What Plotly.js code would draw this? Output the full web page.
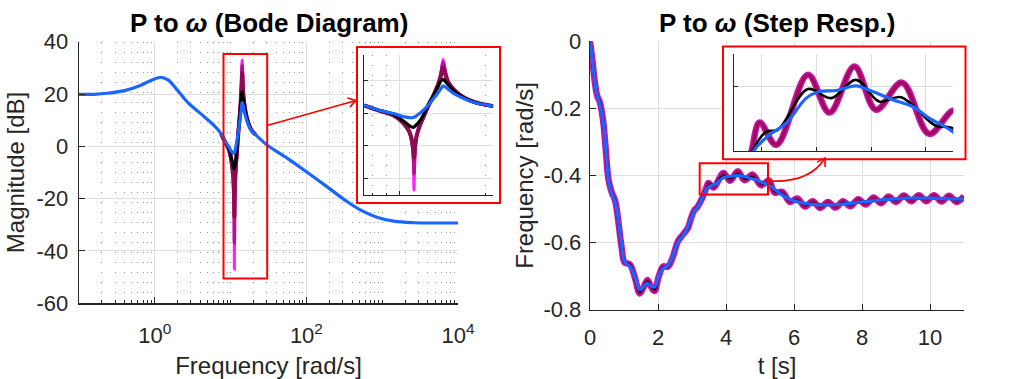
<!DOCTYPE html>
<html><head><meta charset="utf-8">
<script src="https://cdn.plot.ly/plotly-3.0.1.min.js"></script>
<style>html,body{margin:0;padding:0;background:#fff}#plot{width:1011px;height:379px}</style>
</head><body><div id="plot"></div>
<script>
// ---------------- Bode magnitude (frequency rad/s, magnitude dB) ----------------
const bodeFreq = [0.1, 0.158, 0.251, 0.398, 0.631, 0.891, 1.23, 1.51, 2.0, 2.69, 3.98, 6.03,
  7.5, 8.5, 9.5, 10.3, 10.8, 11.0, 11.15, 11.22, 11.3, 11.45, 11.7, 12.1, 12.6, 13.1, 13.6, 13.95,
  14.2, 14.45, 14.8, 15.4, 16.3, 17.5, 19.2, 21.3,
  30.2, 56.2, 100, 186, 347, 513, 851, 1413, 2630, 5012, 10000];
const bodeBlue = [19.9, 19.9, 20.4, 21.3, 23.2, 25.2, 26.4, 25.3, 21.4, 16.9, 12.6, 8.0,
  4.8, 1.8, -0.2, -2.0, -2.6, -2.7, -2.6, -2.4, -2.2, -1.5, -0.3, 1.9, 5.1, 8.7, 12.4, 15.0,
  16.7, 16.2, 14.8, 12.4, 10.1, 7.7, 5.7, 4.5,
  0.5, -4.6, -9.7, -15.4, -21.2, -24.3, -27.1, -28.6, -29.2, -29.3, -29.3];
// resonance window, where the other curves depart from the blue one
const resFreq = [7.5, 8.5, 9.5, 10.3, 10.8, 11.0, 11.15, 11.22, 11.3, 11.45, 11.7, 12.1,
  12.6, 13.1, 13.6, 13.95, 14.2, 14.45, 14.8, 15.4, 16.3, 17.5, 19.2, 21.3];
const resBlack = [4.8, 1.7, -0.7, -4.8, -7.5, -8.3, -8.6, -8.4, -8.0, -6.9, -5.2, -1.0,
  5.6, 10.5, 16.0, 19.8, 20.8, 19.6, 17.5, 14.2, 10.9, 8.0, 5.8, 4.5];
const resPurple = [4.8, 1.5, -1.2, -6.0, -11.0, -15.5, -21.0, -27.0, -21.0, -14.0, -8.5, -2.5,
  4.5, 10.5, 17.0, 23.0, 28.0, 24.0, 19.0, 15.0, 11.2, 8.2, 5.9, 4.5];
const resMagMid = [4.8, 1.5, -1.3, -6.2, -11.5, -16.5, -24.5, -37.0, -24.0, -14.5, -8.7, -2.6,
  4.5, 10.6, 17.3, 24.0, 31.0, 25.5, 19.3, 15.1, 11.2, 8.2, 5.9, 4.5];
const resMagenta = [4.8, 1.5, -1.3, -6.3, -11.8, -17.0, -27.0, -47.0, -26.5, -14.8, -8.8, -2.6,
  4.5, 10.7, 17.5, 24.5, 33.0, 26.5, 19.5, 15.2, 11.3, 8.2, 5.9, 4.5];

// ---------------- Step response (t in s, frequency in rad/s) ----------------
const tBlue = [0,0.07,0.14,0.21,0.29,0.38,0.46,0.54,0.63,0.74,0.83,0.93,1.02,1.17,1.32,1.46,1.57,1.69,1.8,1.9,
  2.02,2.15,2.29,2.42,2.59,2.74,2.88,2.98,3.08,3.14,3.3,
  3.43,3.575,3.727,3.909,4.03,4.182,4.363,4.514,4.696,4.878,5.03,5.242,5.42,5.6,5.8,6.0,6.4,6.9,7.4,7.9,8.4,8.9,9.4,9.9,10.4,11];
const stepBlue = [0,-0.056,-0.118,-0.162,-0.188,-0.232,-0.315,-0.41,-0.452,-0.48,-0.53,-0.61,-0.658,-0.671,-0.703,-0.741,-0.733,-0.721,-0.731,-0.733,
  -0.7,-0.677,-0.669,-0.645,-0.598,-0.58,-0.553,-0.527,-0.504,-0.499,-0.468,
  -0.44,-0.43,-0.4228,-0.4073,-0.4032,-0.4026,-0.3997,-0.4032,-0.4083,-0.4125,-0.4197,-0.428,-0.441,-0.455,-0.467,-0.476,-0.485,-0.488,-0.486,-0.48,-0.475,-0.471,-0.468,-0.468,-0.469,-0.471];
const tBlack = [0,0.07,0.14,0.21,0.29,0.38,0.46,0.54,0.63,0.74,0.83,0.93,1.02,1.17,1.32,1.46,1.57,1.69,1.8,1.9,
  2.02,2.15,2.29,2.42,2.59,2.74,2.88,2.98,3.08,3.14,3.3,
  3.42,3.545,3.65,3.924,4.136,4.363,4.575,4.772,5.09,5.242,5.43,5.65,5.88,6.1,6.32,6.55,7.0,7.9,8.9,9.9,11.0];
const stepBlack = [0,-0.056,-0.119,-0.162,-0.185,-0.232,-0.316,-0.41,-0.45,-0.478,-0.532,-0.612,-0.659,-0.668,-0.704,-0.746,-0.734,-0.717,-0.732,-0.739,
  -0.701,-0.675,-0.67,-0.646,-0.597,-0.578,-0.555,-0.526,-0.503,-0.498,-0.467,
  -0.44,-0.428,-0.4269,-0.4017,-0.4073,-0.396,-0.4094,-0.4067,-0.4244,-0.4259,-0.4455,-0.456,-0.472,-0.477,-0.486,-0.485,-0.488,-0.48,-0.471,-0.468,-0.471];
const tMag = [0,0.07,0.14,0.21,0.29,0.38,0.46,0.54,0.63,0.74,0.83,0.93,1.02,1.17,1.32,1.46,1.57,1.69,1.8,1.9,
  2.02,2.15,2.29,2.42,2.59,2.74,2.88,2.98,3.08,3.14,3.3,
  3.41,3.484,3.636,3.924,4.121,4.348,4.545,4.782,5.03,5.26,5.43,5.65,5.88,6.10,6.32,6.55,6.77,7.0,7.22,7.44,
  7.66,7.89,8.11,8.34,8.56,8.78,9.0,9.23,9.45,9.67,9.89,10.12,10.34,10.56,10.78,11.0];
const stepMag = [0,-0.056,-0.12,-0.162,-0.182,-0.232,-0.318,-0.41,-0.448,-0.476,-0.535,-0.615,-0.66,-0.665,-0.705,-0.752,-0.735,-0.712,-0.733,-0.745,
  -0.702,-0.672,-0.672,-0.648,-0.596,-0.576,-0.557,-0.525,-0.502,-0.497,-0.468,
  -0.44,-0.4224,-0.4362,-0.3929,-0.4162,-0.3878,-0.4145,-0.3977,-0.4294,-0.415,-0.4515,-0.449,-0.479,-0.469,-0.493,-0.477,-0.497,-0.479,-0.496,-0.477,
  -0.492,-0.471,-0.487,-0.466,-0.483,-0.463,-0.479,-0.46,-0.477,-0.459,-0.477,-0.459,-0.478,-0.461,-0.479,-0.462];

// ---------------- tick labels ----------------
const bodeXTicks = [1, 100, 10000];
const bodeXText = ['10<sup>0</sup>', '10<sup>2</sup>', '10<sup>4</sup>'];
const bodeYTicks = [-60, -40, -20, 0, 20, 40];
const bodeYText = ['-60', '-40', '-20', '0', '20', '40'];
const stepXTicks = [0, 2, 4, 6, 8, 10];
const stepXText = ['0', '2', '4', '6', '8', '10'];
const stepYTicks = [-0.8, -0.6, -0.4, -0.2, 0];
const stepYText = ['-0.8', '-0.6', '-0.4', '-0.2', '0'];

// ---------------- styling / layout ----------------
const W = 1011, H = 379;
const FONT = 'Liberation Sans, Arial, Helvetica, sans-serif';
const AX = '#262626';
const BLUE = '#1a66ff', BLACK = '#000000';
const PURPLE = '#8e0a52', MAGMID = '#b8108e', MAGENTA = '#ff1cff';
const STEP_EDGE = '#cc14aa', STEP_CORE = '#9c0b5c';
const RED = '#ff0000';
const fx = p => p / W, fy = p => 1 - p / H;

// minor ticks for log axis (2..9 per decade, plus the unlabelled decades)
const bodeMinor = [];
for (let k = -1; k <= 3; k++) for (let m = 1; m <= 9; m++) {
  const v = m * Math.pow(10, k);
  if (!bodeXTicks.some(t => Math.abs(t - v) < 1e-9) && v > 0.1) bodeMinor.push(v);
}

function line(x, y, xa, ya, color, width) {
  return {type: 'scatter', mode: 'lines', x: x, y: y, xaxis: xa, yaxis: ya,
    line: {color: color, width: width, shape: 'spline', smoothing: 1}, hoverinfo: 'skip', showlegend: false};
}
function bodeSet(xa, ya) {
  return [
    line(resFreq, resMagenta, xa, ya, MAGENTA, 3),
    line(resFreq, resMagMid, xa, ya, MAGMID, 3.5),
    line(resFreq, resPurple, xa, ya, PURPLE, 4),
    line(resFreq, resBlack, xa, ya, BLACK, 3.2),
    line(bodeFreq, bodeBlue, xa, ya, BLUE, 3.2)
  ];
}
function stepSet(xa, ya) {
  return [
    line(tMag, stepMag, xa, ya, STEP_EDGE, 6.5),
    line(tMag, stepMag, xa, ya, STEP_CORE, 3.2),
    line(tBlack, stepBlack, xa, ya, BLACK, 2.6),
    line(tBlue, stepBlue, xa, ya, BLUE, 3.2)
  ];
}
const traces = [].concat(
  bodeSet('x', 'y'),
  stepSet('x2', 'y2'),
  [{type: 'scatter', mode: 'lines', x: [], y: [], xaxis: 'x3', yaxis: 'y3', showlegend: false, hoverinfo: 'skip'}],
  bodeSet('x4', 'y4'),
  [{type: 'scatter', mode: 'lines', x: [], y: [], xaxis: 'x5', yaxis: 'y5', showlegend: false, hoverinfo: 'skip'}],
  stepSet('x6', 'y6')
);

// open "V" arrow head (pixel geometry converted to paper coordinates)
function arrowHead(tx, ty, dx, dy, len, half) {
  const n = Math.hypot(dx, dy); dx /= n; dy /= n;
  const pts = [half, -half].map(a => {
    const c = Math.cos(a), s = Math.sin(a);
    const rx = dx * c - dy * s, ry = dx * s + dy * c;
    return [tx - len * rx, ty - len * ry];
  });
  return 'M ' + fx(pts[0][0]) + ' ' + fy(pts[0][1]) + ' L ' + fx(tx) + ' ' + fy(ty) +
         ' L ' + fx(pts[1][0]) + ' ' + fy(pts[1][1]);
}

const tickFont = {family: FONT, size: 22, color: AX};
const titleFont = {family: FONT, size: 24, color: AX};
const baseAx = {showline: true, linecolor: AX, linewidth: 1.3, ticks: 'inside', ticklen: 6, tickwidth: 1,
  tickcolor: AX, showgrid: true, gridcolor: '#dedede', gridwidth: 1, zeroline: false, tickfont: tickFont,
  fixedrange: true};
const maskAx = {showline: false, showgrid: false, zeroline: false, showticklabels: false, ticks: '', fixedrange: true, range: [0, 1]};

const layout = {
  width: W, height: H,
  margin: {l: 0, r: 0, t: 0, b: 0},
  paper_bgcolor: '#ffffff', plot_bgcolor: 'rgb(255,255,255)',
  showlegend: false,
  font: {family: FONT, color: AX},
  xaxis: Object.assign({}, baseAx, {domain: [fx(79), fx(458)], anchor: 'y', type: 'log', range: [-1, 4],
    tickmode: 'array', tickvals: bodeXTicks, ticktext: bodeXText, ticklabelstandoff: 12,
    minor: {tickmode: 'array', tickvals: bodeMinor, ticks: 'inside', ticklen: 3, tickcolor: AX,
      showgrid: true, gridcolor: '#9a9a9a', griddash: '1px,9px', gridwidth: 1},
    title: {text: 'Frequency [rad/s]', font: titleFont, standoff: 12}}),
  yaxis: Object.assign({}, baseAx, {domain: [fy(303.3), fy(41.7)], anchor: 'x', range: [-60, 40],
    tickmode: 'array', tickvals: bodeYTicks, ticktext: bodeYText, ticklabelstandoff: 5,
    title: {text: 'Magnitude [dB]', font: titleFont, standoff: 5}}),
  xaxis2: Object.assign({}, baseAx, {domain: [fx(590), fx(964)], anchor: 'y2', range: [0, 11],
    tickmode: 'array', tickvals: stepXTicks, ticktext: stepXText, ticklabelstandoff: 8,
    title: {text: 't [s]', font: titleFont, standoff: 12}}),
  yaxis2: Object.assign({}, baseAx, {domain: [fy(309.5), fy(41.3)], anchor: 'x2', range: [-0.8, 0],
    tickmode: 'array', tickvals: stepYTicks, ticktext: stepYText, ticklabelstandoff: 3,
    title: {text: 'Frequency [rad/s]', font: titleFont, standoff: 3}}),
  xaxis3: Object.assign({}, maskAx, {domain: [fx(357), fx(500)], anchor: 'y3'}),
  yaxis3: Object.assign({}, maskAx, {domain: [fy(203), fy(47)], anchor: 'x3'}),
  xaxis4: Object.assign({}, baseAx, {domain: [fx(364), fx(493.3)], anchor: 'y4', type: 'log', range: [0.874, 1.329],
    tickmode: 'array', tickvals: [10], showticklabels: false, ticklen: 4,
    minor: {tickmode: 'array', tickvals: [8, 9, 20], ticks: 'inside', ticklen: 2, tickcolor: AX,
      showgrid: true, gridcolor: '#9a9a9a', griddash: '1px,9px', gridwidth: 1}}),
  yaxis4: Object.assign({}, baseAx, {domain: [fy(195), fy(55)], anchor: 'x4', range: [-50, 35.7],
    tickmode: 'array', tickvals: [-40, -20, 0, 20], showticklabels: false, ticklen: 4}),
  xaxis5: Object.assign({}, maskAx, {domain: [fx(723), fx(965.5)], anchor: 'y5'}),
  yaxis5: Object.assign({}, maskAx, {domain: [fy(159.3), fy(46.5)], anchor: 'x5'}),
  xaxis6: Object.assign({}, baseAx, {domain: [fx(734), fx(953.3)], anchor: 'y6', range: [3.25, 5.25],
    tickmode: 'array', tickvals: [3.5, 4, 4.5, 5], showticklabels: false, ticklen: 4}),
  yaxis6: Object.assign({}, baseAx, {domain: [fy(151), fy(54)], anchor: 'x6', range: [-0.44, -0.38],
    tickmode: 'array', tickvals: [-0.4], showticklabels: false, ticklen: 4}),
  shapes: [
    // zoom boxes around the magnified regions (data coordinates)
    {type: 'rect', xref: 'x', yref: 'y', x0: 8.06, x1: 30.4, y0: -50.5, y1: 35.3,
      line: {color: RED, width: 2}, layer: 'above'},
    {type: 'rect', xref: 'x2', yref: 'y2', x0: 3.226, x1: 5.235, y0: -0.457, y1: -0.364,
      line: {color: RED, width: 2}, layer: 'above'},
    // frames of the insets
    {type: 'rect', xref: 'paper', yref: 'paper', x0: fx(357), x1: fx(500), y0: fy(203), y1: fy(47),
      line: {color: RED, width: 2}, layer: 'above'},
    {type: 'rect', xref: 'paper', yref: 'paper', x0: fx(723), x1: fx(965.5), y0: fy(159.3), y1: fy(46.5),
      line: {color: RED, width: 2}, layer: 'above'},
    // straight connector (Bode) with open arrow head
    {type: 'line', xref: 'paper', yref: 'paper', x0: fx(267), y0: fy(125.5), x1: fx(356), y1: fy(100.5),
      line: {color: RED, width: 1.6}, layer: 'above'},
    {type: 'path', xref: 'paper', yref: 'paper', layer: 'above',
      path: arrowHead(356, 100.5, 89, -25, 9, 0.55), line: {color: RED, width: 1.6}},
    // curved connector (step response) with open arrow head
    {type: 'path', xref: 'paper', yref: 'paper', layer: 'above',
      path: 'M ' + fx(769) + ' ' + fy(181) + ' Q ' + fx(810) + ' ' + fy(183) + ' ' + fx(825) + ' ' + fy(158),
      line: {color: RED, width: 1.6}},
    {type: 'path', xref: 'paper', yref: 'paper', layer: 'above',
      path: arrowHead(825, 158, 15, -25, 9, 0.55), line: {color: RED, width: 1.6}}
  ],
  annotations: [
    {text: '<b>P to <i>ω</i> (Bode Diagram)</b>', xref: 'paper', yref: 'paper', x: fx(268.5), y: fy(23),
      xanchor: 'center', yanchor: 'middle', showarrow: false, font: {family: FONT, size: 26, color: '#000'}},
    {text: '<b>P to <i>ω</i> (Step Resp.)</b>', xref: 'paper', yref: 'paper', x: fx(777), y: fy(23),
      xanchor: 'center', yanchor: 'middle', showarrow: false, font: {family: FONT, size: 26, color: '#000'}}
  ]
};

Plotly.newPlot('plot', traces, layout, {displayModeBar: false, staticPlot: true});
</script>
</body></html>
